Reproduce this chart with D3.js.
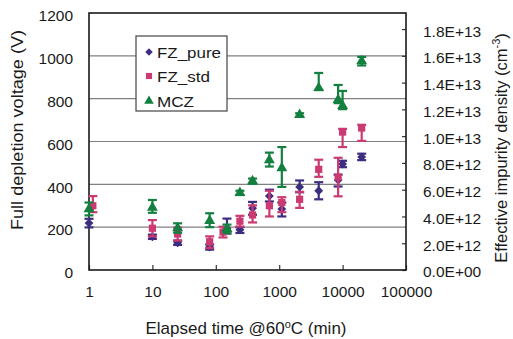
<!DOCTYPE html>
<html><head><meta charset="utf-8">
<script src="https://cdn.jsdelivr.net/npm/d3@7"></script>
<style>
html,body{margin:0;padding:0;background:#fff;}
svg{display:block;font-family:"Liberation Sans",Arial,sans-serif;}
</style></head>
<body><svg id="c" width="513" height="339"></svg>
<script>
// ---- data ----
const seriesNames = ["FZ_pure", "FZ_std", "MCZ"];
const timesPure = [1, 10, 25, 80, 150, 240, 380, 700, 1100, 2100, 4200, 8500, 10000, 20000];
const valuesPure = [219, 155, 127, 107, 195, 188, 288, 345, 285, 388, 370, 420, 495, 528];
const errUpPure = [20, 10, 10, 12, 45, 12, 30, 30, 30, 30, 40, 25, 15, 15];
const errDnPure = [20, 10, 10, 12, 25, 15, 30, 25, 35, 25, 40, 30, 15, 15];

const timesStd = [1.15, 10, 25, 80, 130, 240, 380, 700, 1100, 2100, 4200, 8500, 10000, 20000];
const valuesStd = [300, 195, 168, 132, 177, 228, 257, 300, 315, 330, 470, 434, 644, 663];
const errUpStd = [45, 38, 30, 25, 25, 25, 45, 70, 25, 35, 45, 90, 15, 15];
const errDnStd = [30, 38, 30, 30, 25, 25, 35, 50, 45, 40, 35, 90, 70, 60];

const timesMCZ = [1, 10, 25, 80, 150, 240, 380, 700, 1100, 2100, 4200, 8500, 10000, 20000];
const valuesMCZ = [285, 292, 196, 230, 192, 360, 415, 513, 476, 724, 850, 794, 766, 975];
const errUpMCZ = [30, 35, 22, 35, 20, 10, 12, 35, 98, 8, 70, 70, 70, 20];
const errDnMCZ = [30, 25, 22, 30, 20, 10, 12, 30, 88, 8, 10, 15, 15, 20];

const xTicks = [1, 10, 100, 1000, 10000, 100000];
const xTickLabels = ["1", "10", "100", "1000", "10000", "100000"];
const yTicks = [0, 200, 400, 600, 800, 1000, 1200];
const yTickLabels = ["0", "200", "400", "600", "800", "1000", "1200"];
const rTicks = [0, 2e12, 4e12, 6e12, 8e12, 1e13, 1.2e13, 1.4e13, 1.6e13, 1.8e13];
const rTickLabels = ["0.0E+00", "2.0E+12", "4.0E+12", "6.0E+12", "8.0E+12", "1.0E+13", "1.2E+13", "1.4E+13", "1.6E+13", "1.8E+13"];
const rMax = 1.92e13;

const colors = {FZ_pure: "#3d2d80", FZ_std: "#cc3a72", MCZ: "#138040"};

// ---- layout ----
const L = 89, R = 406, T = 13, B = 270;
const svg = d3.select("#c");
const x = d3.scaleLog().domain([1, 100000]).range([L, R]);
const y = d3.scaleLinear().domain([0, 1200]).range([B, T]);
const yr = d3.scaleLinear().domain([0, rMax]).range([B, T]);

// gridlines
svg.append("g").selectAll("line").data(yTicks.filter(v => v > 0 && v < 1200)).join("line")
  .attr("x1", L).attr("x2", R).attr("y1", d => y(d)).attr("y2", d => y(d))
  .attr("stroke", "#808080").attr("stroke-width", 1.2);

// bottom axis (inward ticks)
const xa = svg.append("g").attr("transform", `translate(0,${B})`)
  .call(d3.axisBottom(x).tickValues(xTicks).tickSize(-5).tickFormat((d, i) => xTickLabels[i]));
xa.select(".domain").remove();
xa.selectAll("line").attr("stroke", "#333").attr("stroke-width", 1.2);
xa.selectAll("text").attr("font-size", "15.5px").attr("fill", "#1a1a1a").attr("y", 27).attr("dy", "0");

// left axis labels
const ya = svg.append("g").attr("transform", `translate(${L},0)`)
  .call(d3.axisLeft(y).tickValues(yTicks).tickSize(0).tickPadding(16).tickFormat((d, i) => yTickLabels[i]));
ya.select(".domain").remove();
ya.selectAll("text").attr("font-size", "15.5px").attr("fill", "#1a1a1a").attr("dy", "0.5em");

// right axis (inward ticks)
const ra = svg.append("g").attr("transform", `translate(${R},0)`)
  .call(d3.axisRight(yr).tickValues(rTicks).tickSize(-4).tickPadding(17).tickFormat((d, i) => rTickLabels[i]));
ra.select(".domain").remove();
ra.selectAll("line").attr("stroke", "#333").attr("stroke-width", 1.2);
ra.selectAll("text").attr("font-size", "15.5px").attr("fill", "#1a1a1a").attr("dy", "0.45em");

// frame
svg.append("rect").attr("x", L).attr("y", T).attr("width", R - L).attr("height", B - T)
  .attr("fill", "none").attr("stroke", "#1a1a1a").attr("stroke-width", 1.6);

// series
const series = [
  {name: "FZ_pure", t: timesPure, v: valuesPure, up: errUpPure, dn: errDnPure, sym: "diamond"},
  {name: "FZ_std", t: timesStd, v: valuesStd, up: errUpStd, dn: errDnStd, sym: "square"},
  {name: "MCZ", t: timesMCZ, v: valuesMCZ, up: errUpMCZ, dn: errDnMCZ, sym: "triangle"}
];
function symPath(s, big) {
  if (s === "diamond") return d3.symbol(d3.symbolDiamond2, big ? 50 : 36)();
  if (s === "square") return d3.symbol(d3.symbolSquare, big ? 52 : 38)();
  return d3.symbol(d3.symbolTriangle, big ? 52 : 40)();
}
series.forEach(s => {
  const c = colors[s.name];
  const g = svg.append("g");
  const pts = s.t.map((t, i) => ({t, v: s.v[i], up: s.up[i], dn: s.dn[i]}));
  const eb = g.selectAll(".eb").data(pts).join("g");
  eb.append("line").attr("x1", d => x(d.t)).attr("x2", d => x(d.t))
    .attr("y1", d => y(d.v + d.up)).attr("y2", d => y(d.v - d.dn))
    .attr("stroke", c).attr("stroke-width", 2.2);
  eb.append("line").attr("x1", d => x(d.t) - 4.5).attr("x2", d => x(d.t) + 4.5)
    .attr("y1", d => y(d.v + d.up)).attr("y2", d => y(d.v + d.up))
    .attr("stroke", c).attr("stroke-width", 2.2);
  eb.append("line").attr("x1", d => x(d.t) - 4.5).attr("x2", d => x(d.t) + 4.5)
    .attr("y1", d => y(d.v - d.dn)).attr("y2", d => y(d.v - d.dn))
    .attr("stroke", c).attr("stroke-width", 2.2);
  g.selectAll(".m").data(pts).join("path")
    .attr("d", symPath(s.sym, true))
    .attr("transform", d => `translate(${x(d.t)},${y(d.v)})`)
    .attr("fill", c);
});

// legend
const lg = svg.append("g");
lg.append("rect").attr("x", 136).attr("y", 36).attr("width", 91).attr("height", 75)
  .attr("fill", "#fff").attr("stroke", "#444").attr("stroke-width", 1.2);
const legendY = [52, 76, 101];
const legendW = [64, 53, 37];
series.forEach((s, i) => {
  lg.append("path").attr("d", symPath(s.sym, false))
    .attr("transform", `translate(149,${legendY[i]})`).attr("fill", colors[s.name]);
  lg.append("text").attr("x", 157).attr("y", legendY[i] + 5.5)
    .attr("font-size", "15.5px").attr("fill", "#1a1a1a")
    .attr("textLength", legendW[i]).attr("lengthAdjust", "spacingAndGlyphs")
    .text(s.name);
});

// axis titles
svg.append("text").attr("transform", "translate(23,130) rotate(-90)")
  .attr("text-anchor", "middle").attr("font-size", "17px").attr("fill", "#1a1a1a")
  .attr("textLength", 200).attr("lengthAdjust", "spacingAndGlyphs")
  .text("Full depletion voltage (V)");

const rt = svg.append("text").attr("transform", "translate(507,148) rotate(-90)")
  .attr("text-anchor", "middle").attr("font-size", "16.5px").attr("fill", "#1a1a1a");
rt.append("tspan").text("Effective impurity density (cm");
rt.append("tspan").attr("font-size", "11px").attr("dy", "-0.6em").text("-3");
rt.append("tspan").attr("dy", "0.4em").text(")");

const xt = svg.append("text").attr("x", 246).attr("y", 334)
  .attr("text-anchor", "middle").attr("font-size", "17px").attr("fill", "#1a1a1a");
xt.append("tspan").text("Elapsed time @60");
xt.append("tspan").attr("font-size", "11px").attr("dy", "-0.55em").text("o");
xt.append("tspan").attr("dy", "0.35em").text("C (min)");
</script></body></html>
